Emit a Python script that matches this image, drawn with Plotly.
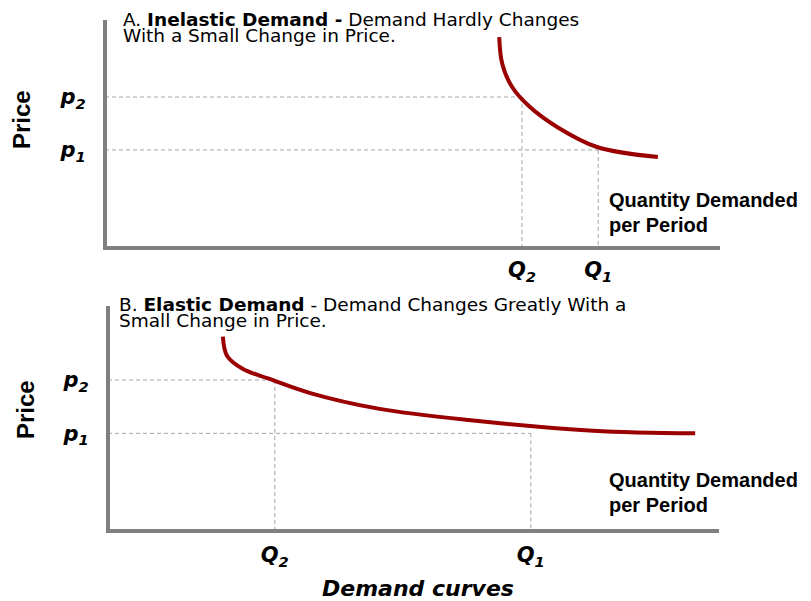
import plotly.graph_objects as go

# The page body adds an 8px margin, so the figure is drawn 8px in from the corner.
OFF = 8
W, H = 811 - OFF, 601 - OFF
LW = 4  # axis line width

# ---- data (units of quantity / price on a 0-10 scale) ----
inelastic_q = [6.41, 6.46, 6.62, 6.91, 7.35, 8.00, 8.99]
inelastic_p = [9.25, 8.07, 7.06, 6.18, 5.31, 4.43, 3.99]
inelastic_prices = [4.30, 6.62]      # p1, p2
inelastic_quantities = [8.02, 6.78]  # Q1, Q2

elastic_q = [1.88, 1.95, 2.21, 2.62, 3.31, 4.40, 5.90, 7.94, 9.61]
elastic_p = [8.64, 7.78, 7.20, 6.78, 6.13, 5.45, 4.93, 4.46, 4.34]
elastic_prices = [4.34, 6.71]        # p1, p2
elastic_quantities = [6.92, 2.73]    # Q1, Q2

price_labels = ["p<sub>1</sub>", "p<sub>2</sub>"]
quantity_labels = ["Q<sub>1</sub>", "Q<sub>2</sub>"]

CURVE = "#9b0000"
AXIS = "#808080"
DASH = "#a6a6a6"
ARIAL = "Liberation Sans, Arial, sans-serif"
WIDE = "DejaVu Sans, Verdana, sans-serif"


def guides(prices, quantities):
    xs, ys = [], []
    for p, q in zip(prices, quantities):
        xs += [0, q, None, q, q, None]
        ys += [p, p, None, p, 0, None]
    return xs, ys


def frame(left, right, bottom, top):
    """Screen pixel positions of the axis-line centres -> domains and ranges."""
    ux = (right - left) / 10.0
    uy = (bottom - top) / 10.0
    xdom = [(left + LW / 2 - OFF) / W, (right - OFF) / W]
    ydom = [1 - (bottom - LW / 2 - OFF) / H, 1 - (top - OFF) / H]
    return xdom, [(LW / 2) / ux, 10], ydom, [(LW / 2) / uy, 10]


fig = go.Figure()

for (qs, ps, prices, quants, xa, ya) in [
    (inelastic_q, inelastic_p, inelastic_prices, inelastic_quantities, "x", "y"),
    (elastic_q, elastic_p, elastic_prices, elastic_quantities, "x2", "y2"),
]:
    gx, gy = guides(prices, quants)
    fig.add_trace(go.Scatter(x=gx, y=gy, mode="lines", xaxis=xa, yaxis=ya,
                             line=dict(color=DASH, width=1, dash="4px,3px"),
                             hoverinfo="skip", showlegend=False))
    fig.add_trace(go.Scatter(x=qs, y=ps, mode="lines", xaxis=xa, yaxis=ya,
                             line=dict(color=CURVE, width=4, shape="spline", smoothing=1),
                             showlegend=False))

tickfont = dict(family=WIDE, size=21, color="black", weight="bold", style="italic")
axis_common = dict(showgrid=False, zeroline=False, showline=True,
                   linecolor=AXIS, linewidth=LW, ticks="", automargin=False,
                   tickfont=tickfont, fixedrange=True)

xdA, xrA, ydA, yrA = frame(105, 720, 248, 20)
xdB, xrB, ydB, yrB = frame(108, 719, 531, 306)

fig.update_layout(
    width=W, height=H,
    margin=dict(l=0, r=0, t=0, b=0),
    paper_bgcolor="white", plot_bgcolor="white",
    xaxis=dict(domain=xdA, range=xrA, anchor="y",
               tickvals=inelastic_quantities, ticktext=quantity_labels,
               ticklabelstandoff=2, **axis_common),
    yaxis=dict(domain=ydA, range=yrA, anchor="x",
               tickvals=inelastic_prices, ticktext=price_labels,
               ticklabelstandoff=13, **axis_common),
    xaxis2=dict(domain=xdB, range=xrB, anchor="y2",
                tickvals=elastic_quantities, ticktext=quantity_labels,
                ticklabelstandoff=4, **axis_common),
    yaxis2=dict(domain=ydB, range=yrB, anchor="x2",
                tickvals=elastic_prices, ticktext=price_labels,
                ticklabelstandoff=13, **axis_common),
)


def ann(text, px, py, size, family=WIDE, xanchor="left", angle=0,
        weight="normal", style="normal"):
    fig.add_annotation(text=text, x=(px - OFF) / W, y=1 - (py - OFF) / H,
                       xref="paper", yref="paper",
                       xanchor=xanchor, yanchor="middle", showarrow=False,
                       textangle=angle,
                       font=dict(family=family, size=size, color="black",
                                 weight=weight, style=style))


# panel titles
ann("A. <b>Inelastic Demand -</b> Demand Hardly Changes", 121, 20, 18.5)
ann("With a Small Change in Price.", 121, 36, 18.5)
ann("B. <b>Elastic Demand</b> - Demand Changes Greatly With a", 117, 304, 18.5)
ann("Small Change in Price.", 117, 320, 18.5)

# axis captions
ann("Price", 21, 120, 24, family=ARIAL, xanchor="center", angle=-90, weight="bold")
ann("Price", 25, 410, 24, family=ARIAL, xanchor="center", angle=-90, weight="bold")
for y0 in (200, 480):
    ann("Quantity Demanded", 607, y0, 20, family=ARIAL, weight="bold")
    ann("per Period", 607, y0 + 25, 20, family=ARIAL, weight="bold")

ann("Demand curves", 418, 588, 22, xanchor="center", weight="bold", style="italic")

fig.write_html("out.html")
